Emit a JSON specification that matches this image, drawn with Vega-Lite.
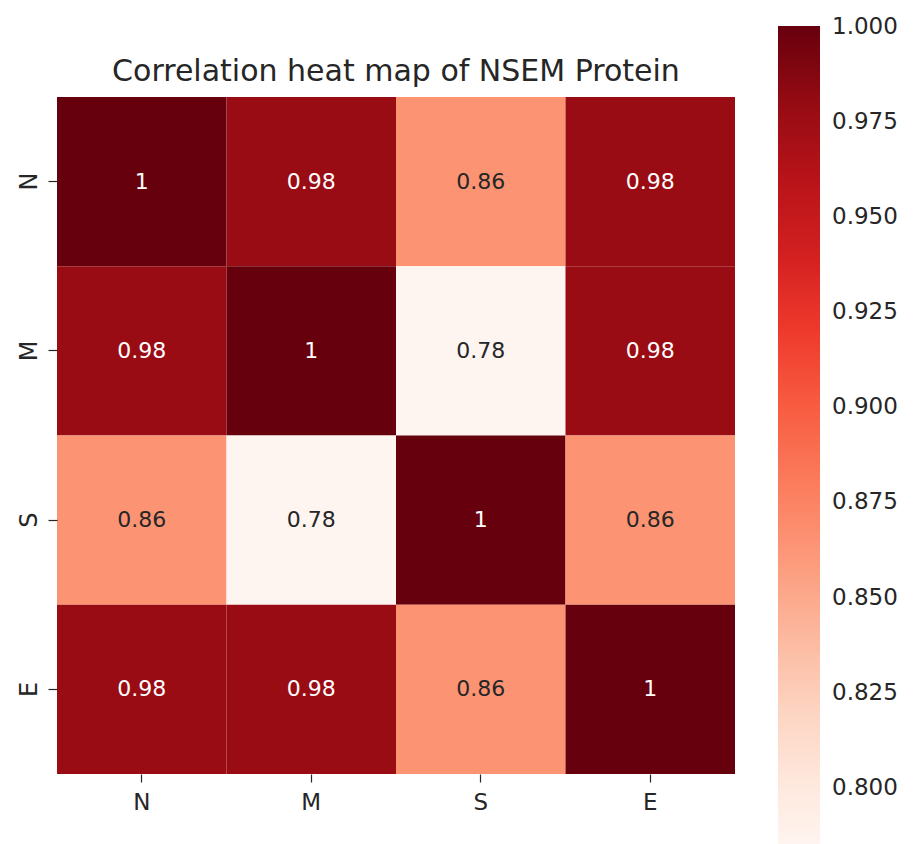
{
  "$schema": "https://vega.github.io/schema/vega-lite/v6.json",
  "width": 678,
  "height": 677,
  "autosize": "none",
  "padding": {"left": 57, "top": 97, "right": 178, "bottom": 70},
  "background": "white",
  "title": {"text": "Correlation heat map of NSEM Protein", "fontSize": 30, "font": "DejaVu Sans", "fontWeight": "normal", "color": "#262626", "offset": 10, "dy": 71},
  "config": {"view": {"stroke": null}},
  "data": {"values": [
    {"row": "N", "col": "N", "value": 1.0},
    {"row": "N", "col": "M", "value": 0.978},
    {"row": "N", "col": "S", "value": 0.864},
    {"row": "N", "col": "E", "value": 0.978},
    {"row": "M", "col": "N", "value": 0.978},
    {"row": "M", "col": "M", "value": 1.0},
    {"row": "M", "col": "S", "value": 0.784},
    {"row": "M", "col": "E", "value": 0.978},
    {"row": "S", "col": "N", "value": 0.864},
    {"row": "S", "col": "M", "value": 0.784},
    {"row": "S", "col": "S", "value": 1.0},
    {"row": "S", "col": "E", "value": 0.864},
    {"row": "E", "col": "N", "value": 0.978},
    {"row": "E", "col": "M", "value": 0.978},
    {"row": "E", "col": "S", "value": 0.864},
    {"row": "E", "col": "E", "value": 1.0}
  ]},
  "encoding": {
    "x": {"field": "col", "type": "nominal", "sort": ["N", "M", "S", "E"], "scale": {"paddingInner": 0, "paddingOuter": 0},
      "axis": {"title": null, "labelAngle": 0, "labelFont": "DejaVu Sans", "labelFontSize": 23, "labelColor": "#262626", "domain": false, "ticks": true, "tickColor": "#262626", "tickSize": 8, "tickWidth": 1.2, "labelPadding": 9}},
    "y": {"field": "row", "type": "nominal", "sort": ["N", "M", "S", "E"], "scale": {"paddingInner": 0, "paddingOuter": 0},
      "axis": {"title": null, "labelAngle": -90, "labelAlign": "center", "labelBaseline": "alphabetic", "labelFont": "DejaVu Sans", "labelFontSize": 24, "labelColor": "#262626", "domain": false, "ticks": true, "tickColor": "#262626", "tickSize": 9, "tickWidth": 1.2, "labelPadding": 12}}
  },
  "layer": [
    {
      "mark": {"type": "rect"},
      "encoding": {
        "color": {"field": "value", "type": "quantitative",
          "scale": {"domain": [0.7842, 0.8112, 0.8382, 0.8652, 0.8922, 0.9192, 0.9462, 0.9732, 1.0002],
                    "range": ["#fff5f0", "#fee0d2", "#fcbba1", "#fc9272", "#fb6a4a", "#ef3b2c", "#cb181d", "#a50f15", "#67000d"],
                    "interpolate": "rgb"},
          "legend": {"orient": "none", "legendX": 721, "legendY": -71, "direction": "vertical", "gradientLength": 822, "gradientThickness": 42, "gradientStrokeWidth": 0, "padding": 0, "offset": 0,
            "values": [0.8, 0.825, 0.85, 0.875, 0.9, 0.925, 0.95, 0.975, 1.0], "format": ".3f",
            "labelFontSize": 23, "labelFont": "DejaVu Sans", "labelColor": "#262626", "labelOffset": 12, "labelOverlap": false, "labelBaseline": "middle", "title": null}
        }
      }
    },
    {
      "mark": {"type": "text", "fontSize": 22, "font": "DejaVu Sans"},
      "encoding": {
        "text": {"field": "value", "type": "quantitative", "format": ".2~f"},
        "color": {"condition": {"test": "datum.value > 0.93", "value": "#ffffff"}, "value": "#262626"}
      }
    }
  ]
}
